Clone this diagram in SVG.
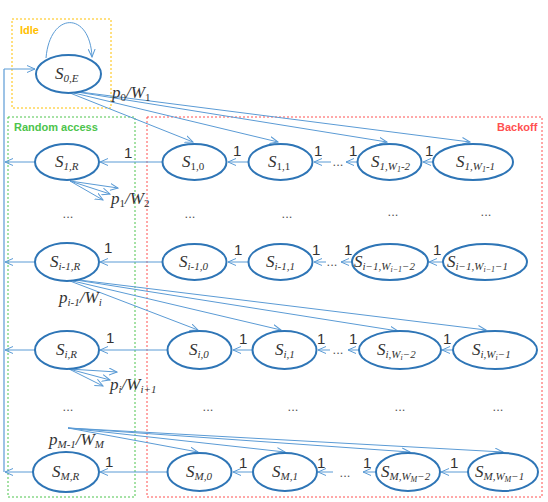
<svg xmlns="http://www.w3.org/2000/svg" width="548" height="502" viewBox="0 0 548 502">
<style>
.n{fill:#fff;stroke:#2e75b6;stroke-width:2}
.c{fill:none;stroke:#5b9bd5;stroke-width:1}
.s{font-family:"Liberation Serif",serif;font-style:italic;font-size:17px;fill:#333}
.sb{font-size:11px}
.ss{font-size:8px}
.one{font-family:"Liberation Sans",sans-serif;font-size:15px;fill:#333}
.d{font-family:"Liberation Sans",sans-serif;font-size:13px;fill:#555}
.p{font-family:"Liberation Serif",serif;font-style:italic;font-size:17px;fill:#333}
.ttl{font-family:"Liberation Sans",sans-serif;font-weight:bold;font-size:11px}
</style>
<defs>
<marker id="a" markerWidth="9" markerHeight="8" refX="8" refY="4" orient="auto" markerUnits="userSpaceOnUse">
<path d="M0,0.5 L8,4 L0,7.5" fill="none" stroke="#5b9bd5" stroke-width="1"/>
</marker>
</defs>
<rect width="548" height="502" fill="#fff"/>
<g id="boxes">
<rect x="12" y="19" width="99" height="89" fill="none" stroke="#ffc000" stroke-width="1" stroke-dasharray="2,2"/>
<text x="20" y="34" class="ttl" fill="#ffc000">Idle</text>
<rect x="8" y="117" width="127" height="380" fill="none" stroke="#4cc44c" stroke-width="1" stroke-dasharray="2,2"/>
<text x="14" y="131" class="ttl" fill="#4cc44c">Random access</text>
<rect x="147" y="117" width="395" height="380" fill="none" stroke="#ff5050" stroke-width="1" stroke-dasharray="2,2"/>
<text x="497" y="131" class="ttl" fill="#ff5050">Backoff</text>
</g>
<g id="connectors">
<path class="c" d="M46,58 C50,11 90,11 92,57" marker-end="url(#a)"/>
<path d="M4,472 V69" fill="none" stroke="#9dc3e6" stroke-width="2"/>
<line class="c" x1="4" y1="69" x2="35" y2="69" marker-end="url(#a)"/>
<line class="c" x1="70" y1="93" x2="193" y2="142" marker-end="url(#a)"/>
<line class="c" x1="74" y1="93" x2="278" y2="142" marker-end="url(#a)"/>
<line class="c" x1="77" y1="92" x2="387" y2="142" marker-end="url(#a)"/>
<line class="c" x1="80" y1="92" x2="470" y2="142" marker-end="url(#a)"/>
<line class="c" x1="162" y1="162" x2="100" y2="162" marker-end="url(#a)"/>
<line class="c" x1="35" y1="162" x2="5" y2="162" marker-end="url(#a)"/>
<line class="c" x1="248" y1="162" x2="228" y2="162" marker-end="url(#a)"/>
<line class="c" x1="331" y1="162" x2="314" y2="162" marker-end="url(#a)"/>
<line class="c" x1="357" y1="162" x2="346" y2="162" marker-end="url(#a)"/>
<line class="c" x1="433" y1="162" x2="423" y2="162" marker-end="url(#a)"/>
<line class="c" x1="70" y1="181" x2="118" y2="188" marker-end="url(#a)"/>
<line class="c" x1="70" y1="181" x2="110" y2="194" marker-end="url(#a)"/>
<line class="c" x1="70" y1="181" x2="103" y2="200" marker-end="url(#a)"/>
<line class="c" x1="162" y1="262" x2="100" y2="262" marker-end="url(#a)"/>
<line class="c" x1="35" y1="262" x2="5" y2="262" marker-end="url(#a)"/>
<line class="c" x1="248" y1="262" x2="228" y2="262" marker-end="url(#a)"/>
<line class="c" x1="326" y1="262" x2="314" y2="262" marker-end="url(#a)"/>
<line class="c" x1="352" y1="262" x2="341" y2="262" marker-end="url(#a)"/>
<line class="c" x1="443" y1="262" x2="429" y2="262" marker-end="url(#a)"/>
<line class="c" x1="70" y1="281" x2="198" y2="330" marker-end="url(#a)"/>
<line class="c" x1="73" y1="281" x2="281" y2="330" marker-end="url(#a)"/>
<line class="c" x1="76" y1="280" x2="398" y2="331" marker-end="url(#a)"/>
<line class="c" x1="79" y1="280" x2="486" y2="330" marker-end="url(#a)"/>
<line class="c" x1="167" y1="350" x2="100" y2="350" marker-end="url(#a)"/>
<line class="c" x1="35" y1="350" x2="5" y2="350" marker-end="url(#a)"/>
<line class="c" x1="252" y1="350" x2="233" y2="350" marker-end="url(#a)"/>
<line class="c" x1="330" y1="350" x2="318" y2="350" marker-end="url(#a)"/>
<line class="c" x1="359" y1="350" x2="348" y2="350" marker-end="url(#a)"/>
<line class="c" x1="453" y1="350" x2="442" y2="350" marker-end="url(#a)"/>
<line class="c" x1="69" y1="369" x2="117" y2="372" marker-end="url(#a)"/>
<line class="c" x1="69" y1="369" x2="110" y2="380" marker-end="url(#a)"/>
<line class="c" x1="69" y1="369" x2="103" y2="386" marker-end="url(#a)"/>
<line class="c" x1="68" y1="428" x2="198" y2="452" marker-end="url(#a)"/>
<line class="c" x1="68" y1="428" x2="285" y2="452" marker-end="url(#a)"/>
<line class="c" x1="68" y1="428" x2="410" y2="452" marker-end="url(#a)"/>
<line class="c" x1="68" y1="428" x2="503" y2="452" marker-end="url(#a)"/>
<line class="c" x1="167" y1="472" x2="100" y2="472" marker-end="url(#a)"/>
<line class="c" x1="33" y1="472" x2="5" y2="472" marker-end="url(#a)"/>
<line class="c" x1="253" y1="472" x2="233" y2="472" marker-end="url(#a)"/>
<line class="c" x1="333" y1="472" x2="318" y2="472" marker-end="url(#a)"/>
<line class="c" x1="377" y1="472" x2="363" y2="472" marker-end="url(#a)"/>
<line class="c" x1="468" y1="472" x2="441" y2="472" marker-end="url(#a)"/>
</g>
<g id="S0E"><ellipse class="n" cx="68.5" cy="74" rx="32.5" ry="19"/><text x="55" y="79" class="s">S<tspan class="sb" dy="3">0,E</tspan></text></g>
<g id="S1R"><ellipse class="n" cx="67" cy="162" rx="32" ry="18"/><text x="55" y="167" class="s">S<tspan class="sb" dy="3">1,R</tspan></text></g>
<g id="S10"><ellipse class="n" cx="194.5" cy="162" rx="32" ry="18"/><text x="182" y="167" class="s">S<tspan class="sb" font-style="normal" dy="3">1,0</tspan></text></g>
<g id="S11"><ellipse class="n" cx="280.5" cy="162" rx="32" ry="18"/><text x="268" y="167" class="s">S<tspan class="sb" font-style="normal" dy="3">1,1</tspan></text></g>
<g id="S1W2"><ellipse class="n" cx="389.5" cy="162" rx="32" ry="18"/><text x="371" y="167" class="s">S<tspan class="sb" dy="3">1,W</tspan><tspan class="ss" dy="2">1</tspan><tspan class="sb" dy="-2">-2</tspan></text></g>
<g id="S1W1"><ellipse class="n" cx="473" cy="162" rx="40" ry="18"/><text x="456" y="167" class="s">S<tspan class="sb" dy="3">1,W</tspan><tspan class="ss" dy="2">1</tspan><tspan class="sb" dy="-2">-1</tspan></text></g>
<g id="Si1R"><ellipse class="n" cx="67" cy="262" rx="32" ry="19"/><text x="50" y="267" class="s">S<tspan class="sb" dy="3">i-1,R</tspan></text></g>
<g id="Si10"><ellipse class="n" cx="194.5" cy="262" rx="32" ry="18"/><text x="179" y="267" class="s">S<tspan class="sb" dy="3">i-1,0</tspan></text></g>
<g id="Si11"><ellipse class="n" cx="280.5" cy="262" rx="32" ry="18"/><text x="266" y="267" class="s">S<tspan class="sb" dy="3">i-1,1</tspan></text></g>
<g id="Si1W2"><ellipse class="n" cx="390" cy="262" rx="38" ry="18"/><text x="354" y="267" class="s">S<tspan class="sb" dy="3">i−1,W</tspan><tspan class="ss" dy="2">i−1</tspan><tspan class="sb" dy="-2">−2</tspan></text></g>
<g id="Si1W1"><ellipse class="n" cx="485" cy="262" rx="42" ry="18"/><text x="447" y="267" class="s">S<tspan class="sb" dy="3">i−1,W</tspan><tspan class="ss" dy="2">i−1</tspan><tspan class="sb" dy="-2">−1</tspan></text></g>
<g id="SiR"><ellipse class="n" cx="67" cy="350" rx="32" ry="19"/><text x="56" y="355" class="s">S<tspan class="sb" dy="3">i,R</tspan></text></g>
<g id="Si0"><ellipse class="n" cx="199.5" cy="350" rx="32" ry="19"/><text x="189" y="355" class="s">S<tspan class="sb" dy="3">i,0</tspan></text></g>
<g id="Si1"><ellipse class="n" cx="284.5" cy="350" rx="32" ry="19"/><text x="275" y="355" class="s">S<tspan class="sb" dy="3">i,1</tspan></text></g>
<g id="SiW2"><ellipse class="n" cx="400" cy="350" rx="41" ry="19"/><text x="377" y="355" class="s">S<tspan class="sb" dy="3">i,W</tspan><tspan class="ss" dy="2">i</tspan><tspan class="sb" dy="-2">−2</tspan></text></g>
<g id="SiW1"><ellipse class="n" cx="495" cy="350" rx="42" ry="19"/><text x="472" y="355" class="s">S<tspan class="sb" dy="3">i,W</tspan><tspan class="ss" dy="2">i</tspan><tspan class="sb" dy="-2">−1</tspan></text></g>
<g id="SMR"><ellipse class="n" cx="66" cy="472" rx="33" ry="20"/><text x="52" y="477" class="s">S<tspan class="sb" dy="3">M,R</tspan></text></g>
<g id="SM0"><ellipse class="n" cx="199.5" cy="472" rx="32" ry="19"/><text x="186" y="477" class="s">S<tspan class="sb" dy="3">M,0</tspan></text></g>
<g id="SM1"><ellipse class="n" cx="285" cy="472" rx="32" ry="19"/><text x="272" y="477" class="s">S<tspan class="sb" dy="3">M,1</tspan></text></g>
<g id="SMW2"><ellipse class="n" cx="408" cy="472" rx="32" ry="19"/><text x="381" y="477" class="s">S<tspan class="sb" dy="3">M,W</tspan><tspan class="ss" dy="2">M</tspan><tspan class="sb" dy="-2">−2</tspan></text></g>
<g id="SMW1"><ellipse class="n" cx="503" cy="472" rx="35" ry="19"/><text x="475" y="477" class="s">S<tspan class="sb" dy="3">M,W</tspan><tspan class="ss" dy="2">M</tspan><tspan class="sb" dy="-2">−1</tspan></text></g>
<g id="labels">
<text x="112" y="98" class="p">p<tspan class="sb" font-style="normal" dy="3">0</tspan><tspan dy="-3">/W</tspan><tspan class="sb" font-style="normal" dy="3">1</tspan></text>
<text x="111" y="204" class="p">p<tspan class="sb" font-style="normal" dy="3">1</tspan><tspan dy="-3">/W</tspan><tspan class="sb" font-style="normal" dy="3">2</tspan></text>
<text x="59" y="303" class="p">p<tspan class="sb" dy="3">i-1</tspan><tspan dy="-3">/W</tspan><tspan class="sb" dy="3">i</tspan></text>
<text x="110" y="390" class="p">p<tspan class="sb" dy="3">i</tspan><tspan dy="-3">/W</tspan><tspan class="sb" dy="3">i+1</tspan></text>
<text x="49" y="445" class="p">p<tspan class="sb" dy="3">M-1</tspan><tspan dy="-3">/W</tspan><tspan class="sb" dy="3">M</tspan></text>
<text x="124" y="158" class="one">1</text>
<text x="233" y="156" class="one">1</text>
<text x="314" y="156" class="one">1</text>
<text x="349" y="156" class="one">1</text>
<text x="425" y="156" class="one">1</text>
<text x="104" y="253" class="one">1</text>
<text x="234" y="255" class="one">1</text>
<text x="312" y="255" class="one">1</text>
<text x="344" y="255" class="one">1</text>
<text x="433" y="255" class="one">1</text>
<text x="106" y="343" class="one">1</text>
<text x="239" y="344" class="one">1</text>
<text x="317" y="344" class="one">1</text>
<text x="349" y="344" class="one">1</text>
<text x="443" y="344" class="one">1</text>
<text x="105" y="467" class="one">1</text>
<text x="239" y="468" class="one">1</text>
<text x="317" y="468" class="one">1</text>
<text x="363" y="468" class="one">1</text>
<text x="450" y="468" class="one">1</text>
<text x="338" y="166" class="d" text-anchor="middle">...</text>
<text x="332" y="266" class="d" text-anchor="middle">...</text>
<text x="338" y="354" class="d" text-anchor="middle">...</text>
<text x="345" y="477" class="d" text-anchor="middle">...</text>
<text x="68" y="218" class="d" text-anchor="middle">...</text>
<text x="190" y="218" class="d" text-anchor="middle">...</text>
<text x="287" y="218" class="d" text-anchor="middle">...</text>
<text x="393" y="216" class="d" text-anchor="middle">...</text>
<text x="486" y="216" class="d" text-anchor="middle">...</text>
<text x="68" y="411" class="d" text-anchor="middle">...</text>
<text x="208" y="411" class="d" text-anchor="middle">...</text>
<text x="293" y="411" class="d" text-anchor="middle">...</text>
<text x="400" y="411" class="d" text-anchor="middle">...</text>
<text x="498" y="411" class="d" text-anchor="middle">...</text>
</g>
</svg>
